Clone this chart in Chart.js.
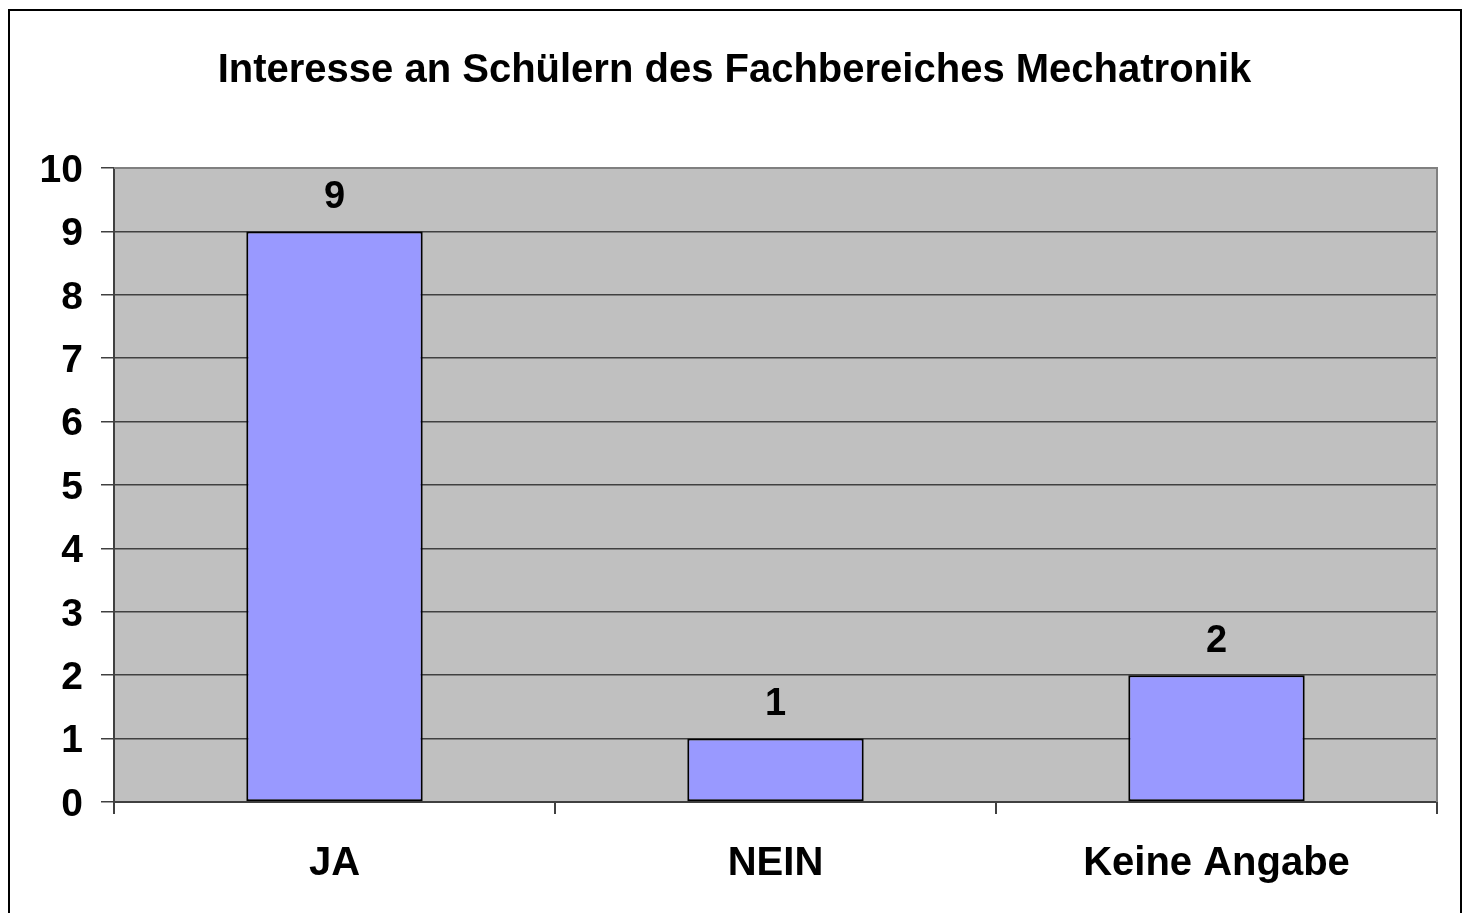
<!DOCTYPE html>
<html>
<head>
<meta charset="utf-8">
<script src="https://cdn.jsdelivr.net/npm/chart.js@4/dist/chart.umd.min.js"></script>
<style>
  html, body { margin: 0; padding: 0; background: #ffffff; }
  canvas { display: block; }
</style>
</head>
<body>
<canvas id="c" width="1469" height="913"></canvas>
<script>
(function () {
  "use strict";

  // chart data
  var categories = ['JA', 'NEIN', 'Keine Angabe'];
  var counts = [9, 1, 2];
  var yTicks = [0, 1, 2, 3, 4, 5, 6, 7, 8, 9, 10];
  var titleText = 'Interesse an Schülern des Fachbereiches Mechatronik';

  var FONT = '"Liberation Sans", Arial, Helvetica, sans-serif';
  var gridColor = '#404040';

  // outer frame + grey plot area
  var framePlugin = {
    id: 'frame',
    beforeDraw: function (chart) {
      var ctx = chart.ctx;
      var a = chart.chartArea;
      ctx.save();
      ctx.fillStyle = '#ffffff';
      ctx.fillRect(0, 0, chart.width, chart.height);
      ctx.strokeStyle = '#000000';
      ctx.lineWidth = 2;
      ctx.strokeRect(9, 10, 1452, 920);
      ctx.fillStyle = '#C0C0C0';
      ctx.fillRect(a.left, a.top, a.right - a.left, a.bottom - a.top);
      ctx.restore();
    },
    afterDraw: function (chart) {
      var ctx = chart.ctx;
      var a = chart.chartArea;
      ctx.save();
      ctx.strokeStyle = '#808080';
      ctx.lineWidth = 2;
      ctx.beginPath();
      ctx.moveTo(a.left, a.top);
      ctx.lineTo(a.right, a.top);
      ctx.lineTo(a.right, a.bottom);
      ctx.stroke();
      ctx.restore();
    }
  };

  // value labels above the bars
  var valueLabels = {
    id: 'valueLabels',
    afterDatasetsDraw: function (chart) {
      var ctx = chart.ctx;
      var meta = chart.getDatasetMeta(0);
      ctx.save();
      ctx.fillStyle = '#000000';
      ctx.font = 'bold 38px ' + FONT;
      ctx.textAlign = 'center';
      ctx.textBaseline = 'middle';
      meta.data.forEach(function (bar, i) {
        ctx.fillText(String(counts[i]), bar.x, bar.y - 34);
      });
      ctx.restore();
    }
  };

  new Chart(document.getElementById('c'), {
    type: 'bar',
    data: {
      labels: categories,
      datasets: [{
        data: counts,
        backgroundColor: '#9999FF',
        borderColor: '#000000',
        borderWidth: 2,
        borderSkipped: false,
        categoryPercentage: 1.0,
        barPercentage: 0.4
      }]
    },
    options: {
      responsive: false,
      animation: false,
      layout: { padding: 0 },
      plugins: {
        legend: { display: false },
        tooltip: { enabled: false },
        title: {
          display: true,
          text: titleText,
          color: '#000000',
          font: { family: FONT, size: 40, weight: 'bold', lineHeight: 1.2 },
          padding: { top: 47, bottom: 73 }
        }
      },
      scales: {
        x: {
          grid: {
            display: true,
            offset: true,
            drawOnChartArea: false,
            drawTicks: true,
            tickLength: 12,
            color: gridColor,
            lineWidth: 2
          },
          border: { display: true, color: gridColor, width: 2 },
          ticks: {
            color: '#000000',
            font: { family: FONT, size: 40, weight: 'bold' },
            padding: 26,
            maxRotation: 0
          },
          afterFit: function (s) { s.height = 111; }
        },
        y: {
          min: yTicks[0],
          max: yTicks[yTicks.length - 1],
          afterBuildTicks: function (s) {
            s.ticks = yTicks.map(function (v) { return { value: v }; });
          },
          grid: {
            color: gridColor,
            lineWidth: 1.5,
            tickLength: 13
          },
          border: { display: true, color: gridColor, width: 2 },
          ticks: {
            color: '#000000',
            font: { family: FONT, size: 39, weight: 'bold' },
            padding: 18,
            labelOffset: 3
          },
          afterFit: function (s) { s.width = 114; }
        },
        // empty right-hand axis, only reserves the white margin
        yRight: {
          position: 'right',
          display: true,
          grid: { display: false },
          border: { display: false },
          ticks: { display: false },
          afterFit: function (s) { s.width = 32; }
        }
      }
    },
    plugins: [framePlugin, valueLabels]
  });
})();
</script>
</body>
</html>
